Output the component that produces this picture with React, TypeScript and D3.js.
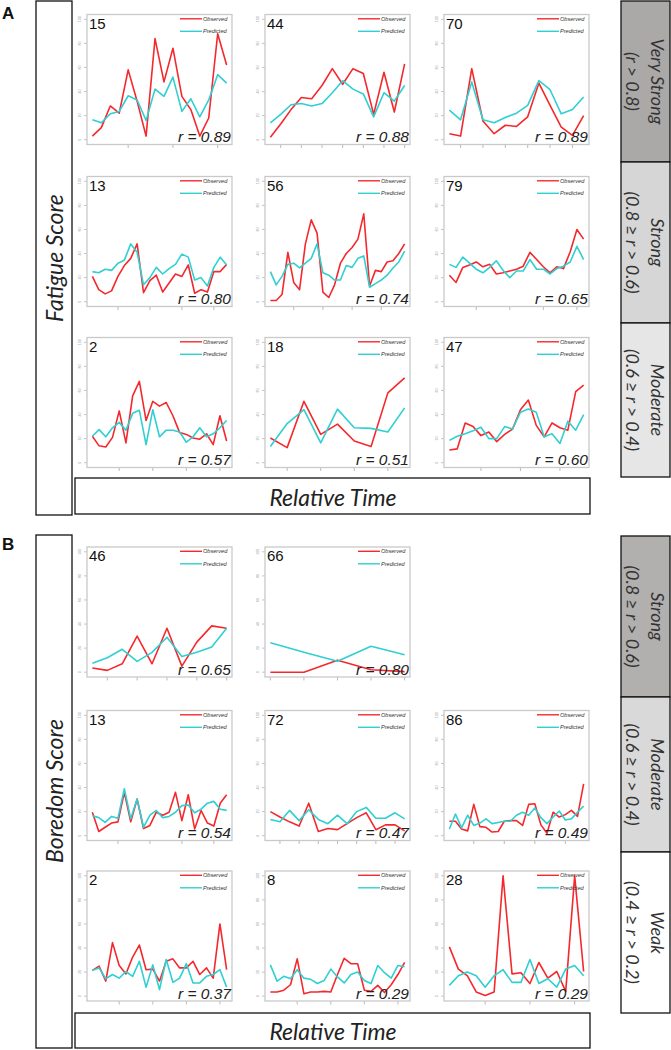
import React from "react";
import * as d3 from "d3";

// ---------- DATA: Fatigue (A) ----------
const fat15Obs = [3, 10, 28, 22, 58, 32, 3, 84, 48, 76, 36, 25, 3, 18, 88, 62];
const fat15Pred = [16.5, 14, 21.5, 23.5, 36.5, 33, 16, 42, 36, 52, 23.5, 34, 19, 33, 54, 47];
const fat44Obs = [2, 13, 25, 35, 34, 45, 59, 46, 59, 55, 21, 56, 23, 63];
const fat44Pred = [14, 21, 29, 30, 28, 30, 39, 49, 42, 38, 19, 39, 32, 45];
const fat70Obs = [5, 3, 59, 15.5, 5, 12, 11, 19, 47, 28.5, 10.5, 3.5, 20];
const fat70Pred = [24.5, 16.5, 48, 16.5, 14, 18.5, 22, 28.5, 49, 41.5, 21.5, 25, 35.5];
const fat13Obs = [21, 10, 6.5, 9, 21, 30, 36, 48, 7.5, 17.5, 22, 8, 15.5, 23, 21, 30.5, 7, 10, 8, 25, 25, 31];
const fat13Pred = [25, 24, 27, 26, 32, 34.5, 48, 41, 14, 20, 28.5, 23, 27.5, 31, 39.5, 37, 18, 20, 13, 28.5, 37, 30.5];
const fat56Obs = [1, 1, 6, 41, 16, 10, 48, 68, 57, 8, 3.5, 14, 32, 40, 45, 52, 73, 13, 26, 25, 33, 34, 40, 48];
const fat56Pred = [25, 14, 21, 31, 32, 28, 32, 36, 48, 24, 22, 18, 18, 30, 28.5, 36, 38, 12, 15, 18, 22, 28, 33, 42];
const fat79Obs = [22, 16, 28.5, 30.5, 33, 29, 31, 23, 24, 25.5, 27, 29.5, 41, 35, 29, 24, 29, 27.5, 41.5, 60, 52];
const fat79Pred = [31, 28.5, 37, 32, 27, 24, 28.5, 34, 26, 20, 25.5, 25.5, 35, 27, 27, 23, 27.5, 29.5, 33, 46, 35];
const fat2Obs = [22, 14, 13, 21, 43, 16.5, 55.5, 67.5, 35, 51, 47, 50, 39, 25, 23.5, 20.5, 19.5, 24, 15, 39, 18];
const fat2Pred = [22, 27.5, 21.5, 29, 33.5, 27, 41, 43.5, 15, 44, 21.5, 27, 27, 25.5, 17, 21.5, 29, 21.5, 24, 29, 35];
const fat18Obs = [20.5, 12.5, 51, 23.5, 32, 18, 13.5, 58, 70.5];
const fat18Pred = [13.5, 32.5, 44, 16.5, 44.5, 29, 28.5, 25.5, 45.5];
const fat47Obs = [10.5, 11.5, 33, 30, 22.5, 25.5, 17.5, 23.5, 28, 44, 52, 31, 21.5, 33, 29, 27, 59, 64.5];
const fat47Pred = [18.5, 22, 24, 26.5, 29.5, 20, 20, 30, 28, 42, 44.5, 42, 21.5, 24, 16, 34.5, 27, 40];

// ---------- DATA: Boredom (B) ----------
const bor46Obs = [3.5, 1.5, 7, 30, 7, 36.5, 5, 25, 38.5, 36.5];
const bor46Pred = [7.5, 12, 19, 9, 16.5, 29, 13, 16.5, 21, 36.5];
const bor66Obs = [0, 0, 10, 2, 0.5];
const bor66Pred = [24.5, 16.5, 9, 21.5, 14.5];
const bor13Obs = [19.5, 3.5, 7, 10.5, 11.5, 36, 11.5, 30.5, 6, 8.5, 19.5, 17, 19.5, 36, 12.5, 34, 5.5, 21, 10.5, 8, 27, 34];
const bor13Pred = [16.5, 15, 11, 16, 14.5, 39, 14, 30.5, 7, 17, 21, 15, 16, 19.5, 25, 25.5, 19, 22, 27, 28.5, 22, 21];
const bor72Obs = [20, 15.5, 11.5, 8, 27, 3.5, 6, 5, 10, 15, 19, 5, 9, 9, 4];
const bor72Pred = [13.5, 11.5, 21, 12.5, 21.5, 13.5, 10, 17, 10, 20, 23.5, 14.5, 14.5, 19, 14];
const bor86Obs = [12, 12, 5.5, 4, 26, 7.5, 7, 3, 3.5, 12, 12.5, 12.5, 8.5, 26, 26.5, 9, 2, 19.5, 15.5, 17.5, 21, 16, 43];
const bor86Pred = [5.5, 18, 6.5, 17, 8.5, 10.5, 14, 10, 11, 12, 12, 17, 19.5, 17, 23, 15, 10, 15.5, 20.5, 13, 14, 19.5, 24.5];
const bor2Obs = [21.5, 25, 12.5, 44.5, 25.5, 18.5, 32.5, 42.5, 22, 22.5, 12.5, 29, 31, 23.5, 23.5, 29, 18, 23.5, 15, 60, 22];
const bor2Pred = [21.5, 23.5, 14.5, 18, 15, 20.5, 16.5, 29, 7.5, 26, 5.5, 30.5, 11.5, 15, 27, 11, 11, 16.5, 18, 22, 7.5];
const bor8Obs = [3.5, 3.5, 5, 9.5, 31, 2, 3.5, 3.5, 4, 3.5, 18, 31.5, 27, 27, 5, 4, 9, 3, 9.5, 18, 28];
const bor8Pred = [26, 12.5, 16.5, 14.5, 22, 15, 14, 10.5, 13, 22.5, 16, 11, 18, 20, 13, 10.5, 25.5, 19.5, 15, 25.5, 24.5];
const bor28Obs = [41, 22.5, 17, 3.5, 0.5, 3.5, 100, 18.5, 19.5, 10.5, 28, 15, 20.5, 4, 100, 20.5];
const bor28Pred = [9, 17, 20, 17, 7.5, 17, 22, 11.5, 11.5, 30.5, 10.5, 14.5, 7.5, 22.5, 25.5, 17];

const yTicks = [0, 20, 40, 60, 80, 100];
const legendLabels = ["Observed", "Predicted"];

const sideLabelsA = [
  ["Very Strong", "(r > 0.8)"],
  ["Strong", "(0.8 \u2265 r > 0.6)"],
  ["Moderate", "(0.6 \u2265 r > 0.4)"],
];
const sideLabelsB = [
  ["Strong", "(0.8 \u2265 r > 0.6)"],
  ["Moderate", "(0.6 \u2265 r > 0.4)"],
  ["Weak", "(0.4 \u2265 r > 0.2)"],
];

type Panel = { id: string; obs: number[]; pred: number[]; r: string; row: number; col: number; step: number };

const panels: Panel[] = [
  { id: "15", obs: fat15Obs, pred: fat15Pred, r: "0.89", row: 0, col: 0, step: 5 },
  { id: "44", obs: fat44Obs, pred: fat44Pred, r: "0.88", row: 0, col: 1, step: 2 },
  { id: "70", obs: fat70Obs, pred: fat70Pred, r: "0.89", row: 0, col: 2, step: 2 },
  { id: "13", obs: fat13Obs, pred: fat13Pred, r: "0.80", row: 1, col: 0, step: 5 },
  { id: "56", obs: fat56Obs, pred: fat56Pred, r: "0.74", row: 1, col: 1, step: 5 },
  { id: "79", obs: fat79Obs, pred: fat79Pred, r: "0.65", row: 1, col: 2, step: 5 },
  { id: "2", obs: fat2Obs, pred: fat2Pred, r: "0.57", row: 2, col: 0, step: 5 },
  { id: "18", obs: fat18Obs, pred: fat18Pred, r: "0.51", row: 2, col: 1, step: 2 },
  { id: "47", obs: fat47Obs, pred: fat47Pred, r: "0.60", row: 2, col: 2, step: 5 },
  { id: "46", obs: bor46Obs, pred: bor46Pred, r: "0.65", row: 3, col: 0, step: 2 },
  { id: "66", obs: bor66Obs, pred: bor66Pred, r: "0.80", row: 3, col: 1, step: 1 },
  { id: "13", obs: bor13Obs, pred: bor13Pred, r: "0.54", row: 4, col: 0, step: 5 },
  { id: "72", obs: bor72Obs, pred: bor72Pred, r: "0.47", row: 4, col: 1, step: 2 },
  { id: "86", obs: bor86Obs, pred: bor86Pred, r: "0.49", row: 4, col: 2, step: 5 },
  { id: "2", obs: bor2Obs, pred: bor2Pred, r: "0.37", row: 5, col: 0, step: 5 },
  { id: "8", obs: bor8Obs, pred: bor8Pred, r: "0.29", row: 5, col: 1, step: 5 },
  { id: "28", obs: bor28Obs, pred: bor28Pred, r: "0.29", row: 5, col: 2, step: 5 },
];

// ---------- LAYOUT ----------
const W = 671;
const H = 1050;
const COLS = [87, 265, 444];
const ROW_TOPS = [14.5, 176.5, 337.5, 547, 710.5, 871];
const PW = 145;
const PH = 130;
const RED = "#f5282d";
const CYAN = "#30cfd2";
const BOXFONT = "Lato, 'Open Sans', sans-serif";
const NUMFONT = "'Liberation Sans', Arial, sans-serif";

function PanelChart({ p }: { p: Panel }) {
  const x0 = COLS[p.col];
  const y0 = ROW_TOPS[p.row];
  const n = p.obs.length;
  const pad = 0.04 * (n - 1);
  const x = d3.scaleLinear().domain([1 - pad, n + pad]).range([x0, x0 + PW]);
  const y = d3.scaleLinear().domain([-4, 104]).range([y0 + PH, y0]);
  const line = d3
    .line<number>()
    .x((_, i) => x(i + 1))
    .y((d) => y(d));
  const xt = d3.range(p.step, n + 0.001, p.step);
  const right = x0 + PW;
  const bottom = y0 + PH;
  return (
    <g>
      <rect x={x0} y={y0} width={PW} height={PH} fill="#fff" stroke="#c9c9c9" strokeWidth={1.3} />
      {yTicks.map((t) => (
        <g key={"y" + t}>
          <line x1={x0 - 3} x2={x0 - 0.5} y1={y(t)} y2={y(t)} stroke="#aaa" strokeWidth={0.7} />
          <text
            transform={`translate(${x0 - 7.5},${y(t)}) rotate(-90)`}
            textAnchor="middle"
            dominantBaseline="central"
            fontSize={3.6}
            fill="#999"
            fontFamily={NUMFONT}
          >
            {t}
          </text>
        </g>
      ))}
      {xt.map((t) => (
        <line key={"x" + t} x1={x(t)} x2={x(t)} y1={bottom + 0.5} y2={bottom + 3.5} stroke="#aaa" strokeWidth={0.8} />
      ))}
      <path d={line(p.obs) || ""} fill="none" stroke={RED} strokeWidth={1.6} strokeLinejoin="round" />
      <path d={line(p.pred) || ""} fill="none" stroke={CYAN} strokeWidth={1.6} strokeLinejoin="round" />
      {/* legend */}
      {legendLabels.map((lab, i) => (
        <g key={lab}>
          <line
            x1={right - 52}
            x2={right - 30}
            y1={y0 + 4.3 + i * 12.5}
            y2={y0 + 4.3 + i * 12.5}
            stroke={i === 0 ? RED : CYAN}
            strokeWidth={1.4}
          />
          <text
            x={right - 29}
            y={y0 + 6.2 + i * 12.5}
            fontSize={5.6}
            fontStyle="italic"
            fill="#333"
            fontFamily={NUMFONT}
          >
            {lab}
          </text>
        </g>
      ))}
      <text x={x0 + 2} y={y0 + 14.2} fontSize={15} fill="#111" fontFamily={NUMFONT}>
        {p.id}
      </text>
      <text
        x={right - 1}
        y={bottom - 2.2}
        fontSize={15.5}
        fontStyle="italic"
        textAnchor="end"
        fill="#222"
        fontFamily={NUMFONT}
      >
        {"r = " + p.r}
      </text>
    </g>
  );
}

function SideBox({ y1, y2, fill, lines }: { y1: number; y2: number; fill: string; lines: string[] }) {
  const cx = 645.5;
  const cy = (y1 + y2) / 2;
  return (
    <g>
      <rect x={621} y={y1} width={49} height={y2 - y1} fill={fill} stroke="#111" strokeWidth={1.3} />
      <g transform={`translate(${cx},${cy}) rotate(90)`}>
        <text x={0} y={-12.5} textAnchor="middle" dominantBaseline="central" fontSize={18} fontStyle="italic" fill="#333" fontFamily={BOXFONT}>
          {lines[0]}
        </text>
        <text x={0} y={13} textAnchor="middle" dominantBaseline="central" fontSize={18} fontStyle="italic" fill="#333" fontFamily={BOXFONT}>
          {lines[1]}
        </text>
      </g>
    </g>
  );
}

export default function App() {
  const sideA = [
    [1, 162],
    [162, 323],
    [323, 477],
  ];
  const sideB = [
    [536, 697],
    [697, 852],
    [852, 1013],
  ];
  const fillsA = ["#aba8a8", "#d6d6d6", "#e6e6e6"];
  const fillsB = ["#b2afaf", "#d9d9d9", "#ffffff"];
  return (
    <svg
      width={W}
      height={H}
      viewBox={`0 0 ${W} ${H}`}
      style={{ position: "absolute", left: 0, top: 0, background: "#fff" }}
    >
      <rect x={0} y={0} width={W} height={H} fill="#fff" />
      <text x={2} y={19} fontSize={17} fontWeight="bold" fontFamily={NUMFONT} fill="#111">A</text>
      <text x={2} y={550} fontSize={17} fontWeight="bold" fontFamily={NUMFONT} fill="#111">B</text>

      {/* left label boxes */}
      <rect x={36} y={1} width={36} height={514} fill="#fff" stroke="#111" strokeWidth={1.3} />
      <text
        transform={`translate(54,258) rotate(-90)`}
        textAnchor="middle"
        dominantBaseline="central"
        fontSize={23}
        fontStyle="italic"
        fill="#222"
        fontFamily={BOXFONT}
      >
        Fatigue Score
      </text>
      <rect x={36} y={535} width={36} height={513} fill="#fff" stroke="#111" strokeWidth={1.3} />
      <text
        transform={`translate(54,791) rotate(-90)`}
        textAnchor="middle"
        dominantBaseline="central"
        fontSize={23}
        fontStyle="italic"
        fill="#222"
        fontFamily={BOXFONT}
      >
        Boredom Score
      </text>

      {/* relative time boxes */}
      <rect x={75} y={478} width={515} height={36} fill="#fff" stroke="#111" strokeWidth={1.3} />
      <text x={333} y={497} textAnchor="middle" dominantBaseline="central" fontSize={23} fontStyle="italic" fill="#222" fontFamily={BOXFONT}>
        Relative Time
      </text>
      <rect x={75} y={1013} width={515} height={35} fill="#fff" stroke="#111" strokeWidth={1.3} />
      <text x={333} y={1031} textAnchor="middle" dominantBaseline="central" fontSize={23} fontStyle="italic" fill="#222" fontFamily={BOXFONT}>
        Relative Time
      </text>

      {sideA.map((s, i) => (
        <SideBox key={"a" + i} y1={s[0]} y2={s[1]} fill={fillsA[i]} lines={sideLabelsA[i]} />
      ))}
      {sideB.map((s, i) => (
        <SideBox key={"b" + i} y1={s[0]} y2={s[1]} fill={fillsB[i]} lines={sideLabelsB[i]} />
      ))}

      {panels.map((p, i) => (
        <PanelChart key={i} p={p} />
      ))}
    </svg>
  );
}
